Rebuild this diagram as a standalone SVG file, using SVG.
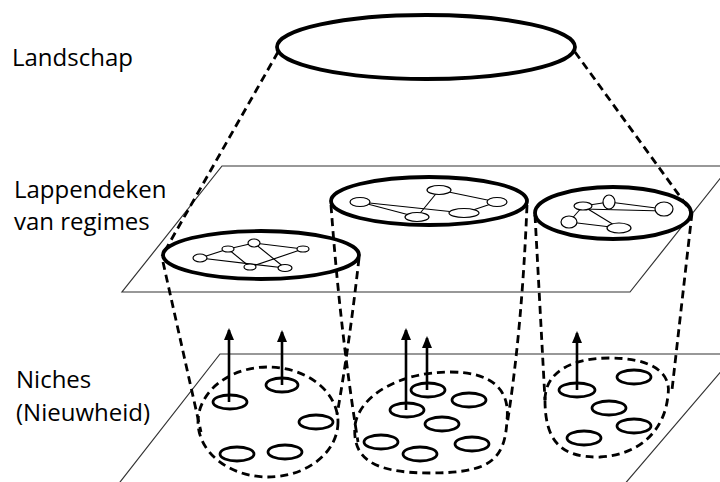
<svg xmlns="http://www.w3.org/2000/svg" width="720" height="482" viewBox="0 0 720 482">
<defs>
<style>
.plane{fill:none;stroke:#333;stroke-width:1.2}
.big{fill:#fff;stroke:#000;stroke-width:3.8}
.net line{stroke:#000;stroke-width:1.1}
.net ellipse{fill:#fff;stroke:#000;stroke-width:1.2}
.dash{fill:none;stroke:#000;stroke-width:2.8;stroke-dasharray:8 5}
.niche{fill:#fff;stroke:#000;stroke-width:2.8}
.arrow{stroke:#000;stroke-width:2.6;marker-end:url(#ah)}
.lbl{font-family:"Open Sans","Liberation Sans",sans-serif;font-size:24px;fill:#000}
</style>
<marker id="ah" viewBox="0 0 12 10" refX="10" refY="5" markerWidth="12" markerHeight="10" markerUnits="userSpaceOnUse" orient="auto">
<path d="M0,0 L12,5 L0,10 Z" fill="#000"/>
</marker>
</defs>
<rect width="720" height="482" fill="#fff"/>
<g id="labels">
<text class="lbl" x="12" y="66">Landschap</text>
<text class="lbl" x="14" y="198">Lappendeken</text>
<text class="lbl" x="14" y="230">van regimes</text>
<text class="lbl" x="16" y="388">Niches</text>
<text class="lbl" x="16" y="421">(Nieuwheid)</text>
</g>
<g id="planes">
<polygon class="plane" points="222,166 730,166 630,292 122,292"/>
<polygon class="plane" points="220,354 736,354 611,500 106,500"/>
</g>
<g id="landschap">
<ellipse class="big" cx="426" cy="47" rx="149" ry="32" stroke-width="3.2"/>
</g>
<g id="regime1">
<ellipse class="big" cx="261" cy="255" rx="98" ry="24"/>
<g class="net">
<line x1="200" y1="258" x2="228" y2="249"/><line x1="228" y1="249" x2="254" y2="243"/>
<line x1="254" y1="243" x2="303" y2="249"/><line x1="228" y1="249" x2="250" y2="267"/>
<line x1="254" y1="243" x2="285" y2="268"/><line x1="250" y1="267" x2="303" y2="249"/>
<line x1="200" y1="258" x2="285" y2="268"/>
<ellipse cx="200" cy="258" rx="7" ry="4"/><ellipse cx="228" cy="249" rx="6" ry="3"/>
<ellipse cx="254" cy="243" rx="6" ry="4"/><ellipse cx="303" cy="249" rx="6" ry="3"/>
<ellipse cx="250" cy="267" rx="6" ry="3"/><ellipse cx="285" cy="268" rx="7" ry="3.5"/>
</g>
</g>
<g id="regime2">
<ellipse class="big" cx="429" cy="201" rx="98" ry="24"/>
<g class="net">
<line x1="360" y1="202" x2="417" y2="217"/><line x1="360" y1="202" x2="464" y2="213"/>
<line x1="439" y1="190" x2="417" y2="217"/><line x1="439" y1="190" x2="497" y2="202"/>
<line x1="497" y1="202" x2="464" y2="213"/>
<ellipse cx="360" cy="202" rx="10" ry="4.5"/><ellipse cx="439" cy="190" rx="12" ry="4.5"/>
<ellipse cx="497" cy="202" rx="10" ry="4.5"/><ellipse cx="417" cy="217" rx="12" ry="4.5"/>
<ellipse cx="464" cy="213" rx="15" ry="4.5"/>
</g>
</g>
<g id="regime3">
<ellipse class="big" cx="613" cy="213" rx="78" ry="26"/>
<g class="net">
<line x1="583" y1="206" x2="609" y2="202"/><line x1="609" y1="202" x2="664" y2="209"/>
<line x1="583" y1="209" x2="664" y2="211"/><line x1="569" y1="222" x2="583" y2="206"/>
<line x1="583" y1="206" x2="619" y2="228"/><line x1="569" y1="222" x2="619" y2="228"/>
<ellipse cx="583" cy="206" rx="9" ry="4"/><ellipse cx="609" cy="202" rx="6" ry="7"/>
<ellipse cx="664" cy="209" rx="9" ry="7"/><ellipse cx="569" cy="222" rx="8" ry="6"/>
<ellipse cx="619" cy="228" rx="12" ry="5"/>
</g>
</g>
<g id="connectors">
<path class="dash" d="M278,52 L162,256"/>
<path class="dash" d="M575,52 L692,213"/>
<path class="dash" d="M163,262 L201,432"/>
<path class="dash" d="M359,258 Q350,340 337,415"/>
<path class="dash" d="M331,205 Q340,330 358,442"/>
<path class="dash" d="M527,205 Q522,330 507,425"/>
<path class="dash" d="M535,215 L545,400"/>
<path class="dash" d="M692,213 L672,390"/>
</g>
<g id="niche1">
<ellipse class="dash" cx="268" cy="422" rx="70" ry="55"/>
<ellipse class="niche" cx="230" cy="402" rx="17" ry="7"/>
<ellipse class="niche" cx="282" cy="385" rx="16" ry="7"/>
<ellipse class="niche" cx="316" cy="422" rx="17" ry="7"/>
<ellipse class="niche" cx="237" cy="454" rx="17" ry="7"/>
<ellipse class="niche" cx="285" cy="452" rx="17" ry="7"/>
<line class="arrow" x1="229" y1="402" x2="229" y2="330"/>
<line class="arrow" x1="282" y1="385" x2="282" y2="332"/>
</g>
<g id="niche2">
<path class="dash" d="M355,425 C360,395 400,372 450,372 C495,372 510,392 507,420 C505,460 490,473 430,473 C372,473 352,458 355,425 Z"/>
<ellipse class="niche" cx="428" cy="390" rx="17" ry="7"/>
<ellipse class="niche" cx="407" cy="410" rx="17" ry="7"/>
<ellipse class="niche" cx="469" cy="400" rx="17" ry="7"/>
<ellipse class="niche" cx="442" cy="424" rx="17" ry="7"/>
<ellipse class="niche" cx="381" cy="442" rx="17" ry="7"/>
<ellipse class="niche" cx="420" cy="454" rx="17" ry="7"/>
<ellipse class="niche" cx="472" cy="444" rx="17" ry="7"/>
<line class="arrow" x1="406" y1="410" x2="406" y2="330"/>
<line class="arrow" x1="427" y1="390" x2="427" y2="338"/>
</g>
<g id="niche3">
<path class="dash" d="M545,400 C545,370 575,358 610,358 C650,358 672,372 668,395 C665,430 640,455 600,457 C560,458 545,440 545,400 Z"/>
<ellipse class="niche" cx="634" cy="377" rx="17" ry="7"/>
<ellipse class="niche" cx="577" cy="390" rx="18" ry="7"/>
<ellipse class="niche" cx="609" cy="408" rx="17" ry="7"/>
<ellipse class="niche" cx="634" cy="426" rx="17" ry="7"/>
<ellipse class="niche" cx="584" cy="438" rx="17" ry="7"/>
<line class="arrow" x1="577" y1="390" x2="577" y2="333"/>
</g>
</svg>
